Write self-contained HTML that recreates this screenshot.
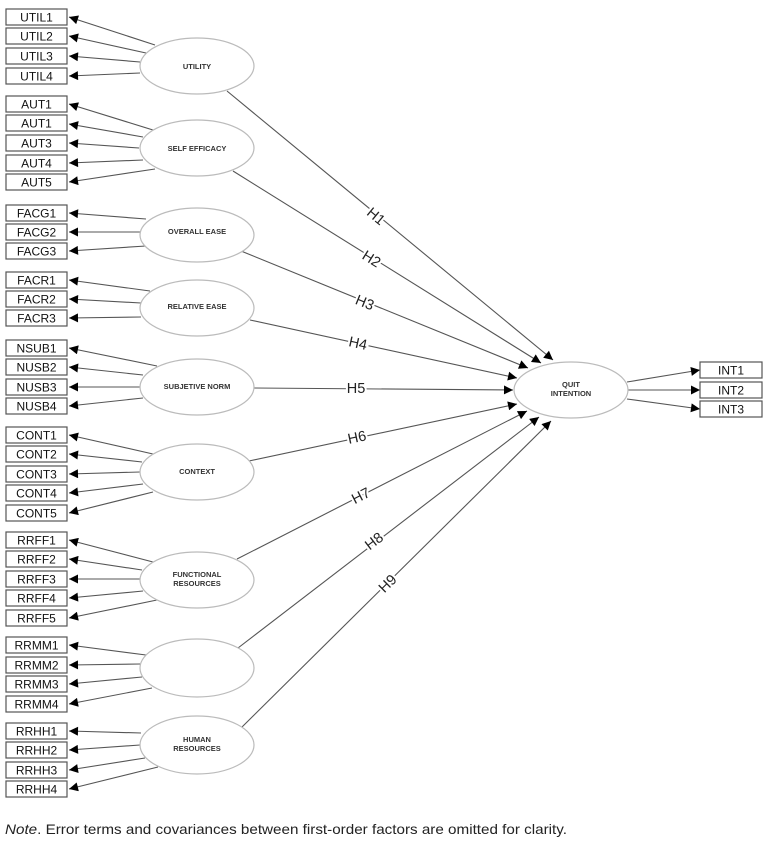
<!DOCTYPE html>
<html><head><meta charset="utf-8"><style>
html,body{margin:0;padding:0;background:#fff;width:774px;height:848px;overflow:hidden}
svg{display:block}
.b{fill:#fff;stroke:#555;stroke-width:1.2}
.bt{font-family:"Liberation Sans",sans-serif;font-size:12px;fill:#111;text-anchor:middle}
.e{fill:#fff;stroke:#bbb;stroke-width:1.2}
.et{font-family:"Liberation Sans",sans-serif;font-size:7.5px;font-weight:bold;fill:#333;text-anchor:middle}
.l{stroke:#555;stroke-width:1.1;fill:none}
.h{font-family:"Liberation Sans",sans-serif;font-size:14.5px;fill:#222;text-anchor:middle;stroke:#fff;stroke-width:4;paint-order:stroke}
</style></head><body>
<svg width="774" height="848" viewBox="0 0 774 848">
<defs><marker id="a" viewBox="0 0 10 10" refX="10" refY="5" markerWidth="11" markerHeight="9" markerUnits="userSpaceOnUse" orient="auto"><path d="M0,0 L10,5 L0,10 z" fill="#000"/></marker></defs>

<g class="l" marker-end="url(#a)">
<line x1="155" y1="45" x2="69" y2="17"/><line x1="146" y1="53" x2="69" y2="36"/><line x1="140" y1="62" x2="69" y2="56"/><line x1="140" y1="73" x2="69" y2="76"/>
<line x1="153" y1="130" x2="69" y2="104"/><line x1="143" y1="137" x2="69" y2="124"/><line x1="139" y1="148" x2="69" y2="143"/><line x1="143" y1="160" x2="69" y2="163"/><line x1="155" y1="169" x2="69" y2="182"/>
<line x1="146" y1="219" x2="69" y2="213"/><line x1="140" y1="232" x2="69" y2="232"/><line x1="146" y1="246" x2="69" y2="251"/>
<line x1="150" y1="291" x2="69" y2="280"/><line x1="141" y1="303" x2="69" y2="299"/><line x1="141" y1="317" x2="69" y2="318"/>
<line x1="157" y1="366" x2="69" y2="348"/><line x1="143" y1="375" x2="69" y2="367"/><line x1="140" y1="387" x2="69" y2="387"/><line x1="143" y1="398" x2="69" y2="406"/>
<line x1="153" y1="454" x2="69" y2="435"/><line x1="142" y1="462" x2="69" y2="454"/><line x1="140" y1="472" x2="69" y2="474"/><line x1="143" y1="484" x2="69" y2="493"/><line x1="153" y1="492" x2="69" y2="513"/>
<line x1="153" y1="562" x2="69" y2="540"/><line x1="142" y1="570" x2="69" y2="559"/><line x1="140" y1="579" x2="69" y2="579"/><line x1="143" y1="591" x2="69" y2="598"/><line x1="157" y1="600" x2="69" y2="618"/>
<line x1="146" y1="655" x2="69" y2="645"/><line x1="140" y1="664" x2="69" y2="665"/><line x1="142" y1="677" x2="69" y2="684"/><line x1="152" y1="688" x2="69" y2="704"/>
<line x1="141" y1="733" x2="69" y2="731"/><line x1="140" y1="745" x2="69" y2="750"/><line x1="145" y1="758" x2="69" y2="770"/><line x1="158" y1="767" x2="69" y2="789"/>
<line x1="627" y1="382" x2="700" y2="370"/><line x1="628" y1="390" x2="700" y2="390"/><line x1="627" y1="399" x2="700" y2="409"/>
</g>

<g class="l" marker-end="url(#a)">
<line x1="227" y1="91" x2="553" y2="360"/>
<line x1="233" y1="171" x2="541" y2="363"/>
<line x1="241" y1="251" x2="528" y2="368"/>
<line x1="250" y1="320" x2="517" y2="378"/>
<line x1="254" y1="388" x2="513" y2="390"/>
<line x1="249" y1="461" x2="517" y2="404"/>
<line x1="237" y1="559" x2="527" y2="411"/>
<line x1="238" y1="648" x2="539" y2="417"/>
<line x1="242" y1="727" x2="551" y2="421"/>
</g>
<g>
<text class="h" transform="translate(373,220) rotate(39.5)">H1</text>
<text class="h" transform="translate(369,263) rotate(32)">H2</text>
<text class="h" transform="translate(363,307) rotate(22.2)">H3</text>
<text class="h" transform="translate(357,348) rotate(12.3)">H4</text>
<text class="h" transform="translate(356,393)">H5</text>
<text class="h" transform="translate(358,442) rotate(-12)">H6</text>
<text class="h" transform="translate(363,500) rotate(-27)">H7</text>
<text class="h" transform="translate(377,545) rotate(-37.5)">H8</text>
<text class="h" transform="translate(391,587) rotate(-44.7)">H9</text>
</g>

<ellipse class="e" cx="197" cy="66" rx="57" ry="28"/><text class="et" x="197" y="69">UTILITY</text>
<ellipse class="e" cx="197" cy="148" rx="57" ry="28"/><text class="et" x="197" y="151">SELF EFFICACY</text>
<ellipse class="e" cx="197" cy="235" rx="57" ry="27"/><text class="et" x="197" y="234">OVERALL EASE</text>
<ellipse class="e" cx="197" cy="308" rx="57" ry="28"/><text class="et" x="197" y="309">RELATIVE EASE</text>
<ellipse class="e" cx="197" cy="387" rx="57" ry="28"/><text class="et" x="197" y="389">SUBJETIVE NORM</text>
<ellipse class="e" cx="197" cy="472" rx="57" ry="28"/><text class="et" x="197" y="474">CONTEXT</text>
<ellipse class="e" cx="197" cy="580" rx="57" ry="28"/><text class="et" x="197" y="577">FUNCTIONAL</text><text class="et" x="197" y="586">RESOURCES</text>
<ellipse class="e" cx="197" cy="668" rx="57" ry="29"/>
<ellipse class="e" cx="197" cy="745" rx="57" ry="29"/><text class="et" x="197" y="742">HUMAN</text><text class="et" x="197" y="751">RESOURCES</text>
<ellipse class="e" cx="571" cy="390" rx="57" ry="28"/><text class="et" x="571" y="387">QUIT</text><text class="et" x="571" y="396">INTENTION</text>

<g>
<rect class="b" x="6" y="9" width="61" height="16"/><text class="bt" x="36.5" y="21.5">UTIL1</text>
<rect class="b" x="6" y="28" width="61" height="16"/><text class="bt" x="36.5" y="40.5">UTIL2</text>
<rect class="b" x="6" y="48" width="61" height="16"/><text class="bt" x="36.5" y="60.5">UTIL3</text>
<rect class="b" x="6" y="68" width="61" height="16"/><text class="bt" x="36.5" y="80.5">UTIL4</text>
<rect class="b" x="6" y="96" width="61" height="16"/><text class="bt" x="36.5" y="108.5">AUT1</text>
<rect class="b" x="6" y="115" width="61" height="16"/><text class="bt" x="36.5" y="127.5">AUT1</text>
<rect class="b" x="6" y="135" width="61" height="16"/><text class="bt" x="36.5" y="147.5">AUT3</text>
<rect class="b" x="6" y="155" width="61" height="16"/><text class="bt" x="36.5" y="167.5">AUT4</text>
<rect class="b" x="6" y="174" width="61" height="16"/><text class="bt" x="36.5" y="186.5">AUT5</text>
<rect class="b" x="6" y="205" width="61" height="16"/><text class="bt" x="36.5" y="217.5">FACG1</text>
<rect class="b" x="6" y="224" width="61" height="16"/><text class="bt" x="36.5" y="236.5">FACG2</text>
<rect class="b" x="6" y="243" width="61" height="16"/><text class="bt" x="36.5" y="255.5">FACG3</text>
<rect class="b" x="6" y="272" width="61" height="16"/><text class="bt" x="36.5" y="284.5">FACR1</text>
<rect class="b" x="6" y="291" width="61" height="16"/><text class="bt" x="36.5" y="303.5">FACR2</text>
<rect class="b" x="6" y="310" width="61" height="16"/><text class="bt" x="36.5" y="322.5">FACR3</text>
<rect class="b" x="6" y="340" width="61" height="16"/><text class="bt" x="36.5" y="352.5">NSUB1</text>
<rect class="b" x="6" y="359" width="61" height="16"/><text class="bt" x="36.5" y="371.5">NUSB2</text>
<rect class="b" x="6" y="379" width="61" height="16"/><text class="bt" x="36.5" y="391.5">NUSB3</text>
<rect class="b" x="6" y="398" width="61" height="16"/><text class="bt" x="36.5" y="410.5">NUSB4</text>
<rect class="b" x="6" y="427" width="61" height="16"/><text class="bt" x="36.5" y="439.5">CONT1</text>
<rect class="b" x="6" y="446" width="61" height="16"/><text class="bt" x="36.5" y="458.5">CONT2</text>
<rect class="b" x="6" y="466" width="61" height="16"/><text class="bt" x="36.5" y="478.5">CONT3</text>
<rect class="b" x="6" y="485" width="61" height="16"/><text class="bt" x="36.5" y="497.5">CONT4</text>
<rect class="b" x="6" y="505" width="61" height="16"/><text class="bt" x="36.5" y="517.5">CONT5</text>
<rect class="b" x="6" y="532" width="61" height="16"/><text class="bt" x="36.5" y="544.5">RRFF1</text>
<rect class="b" x="6" y="551" width="61" height="16"/><text class="bt" x="36.5" y="563.5">RRFF2</text>
<rect class="b" x="6" y="571" width="61" height="16"/><text class="bt" x="36.5" y="583.5">RRFF3</text>
<rect class="b" x="6" y="590" width="61" height="16"/><text class="bt" x="36.5" y="602.5">RRFF4</text>
<rect class="b" x="6" y="610" width="61" height="16"/><text class="bt" x="36.5" y="622.5">RRFF5</text>
<rect class="b" x="6" y="637" width="61" height="16"/><text class="bt" x="36.5" y="649.5">RRMM1</text>
<rect class="b" x="6" y="657" width="61" height="16"/><text class="bt" x="36.5" y="669.5">RRMM2</text>
<rect class="b" x="6" y="676" width="61" height="16"/><text class="bt" x="36.5" y="688.5">RRMM3</text>
<rect class="b" x="6" y="696" width="61" height="16"/><text class="bt" x="36.5" y="708.5">RRMM4</text>
<rect class="b" x="6" y="723" width="61" height="16"/><text class="bt" x="36.5" y="735.5">RRHH1</text>
<rect class="b" x="6" y="742" width="61" height="16"/><text class="bt" x="36.5" y="754.5">RRHH2</text>
<rect class="b" x="6" y="762" width="61" height="16"/><text class="bt" x="36.5" y="774.5">RRHH3</text>
<rect class="b" x="6" y="781" width="61" height="16"/><text class="bt" x="36.5" y="793.5">RRHH4</text>
<rect class="b" x="700" y="362" width="62" height="16"/><text class="bt" x="731" y="374.5">INT1</text>
<rect class="b" x="700" y="382" width="62" height="16"/><text class="bt" x="731" y="394.5">INT2</text>
<rect class="b" x="700" y="401" width="62" height="16"/><text class="bt" x="731" y="413.5">INT3</text>
</g>
<text x="5" y="834" textLength="562" lengthAdjust="spacingAndGlyphs" style="font-family:'Liberation Sans',sans-serif;font-size:14px;fill:#222"><tspan font-style="italic">Note</tspan>. Error terms and covariances between first-order factors are omitted for clarity.</text>
</svg>
</body></html>
